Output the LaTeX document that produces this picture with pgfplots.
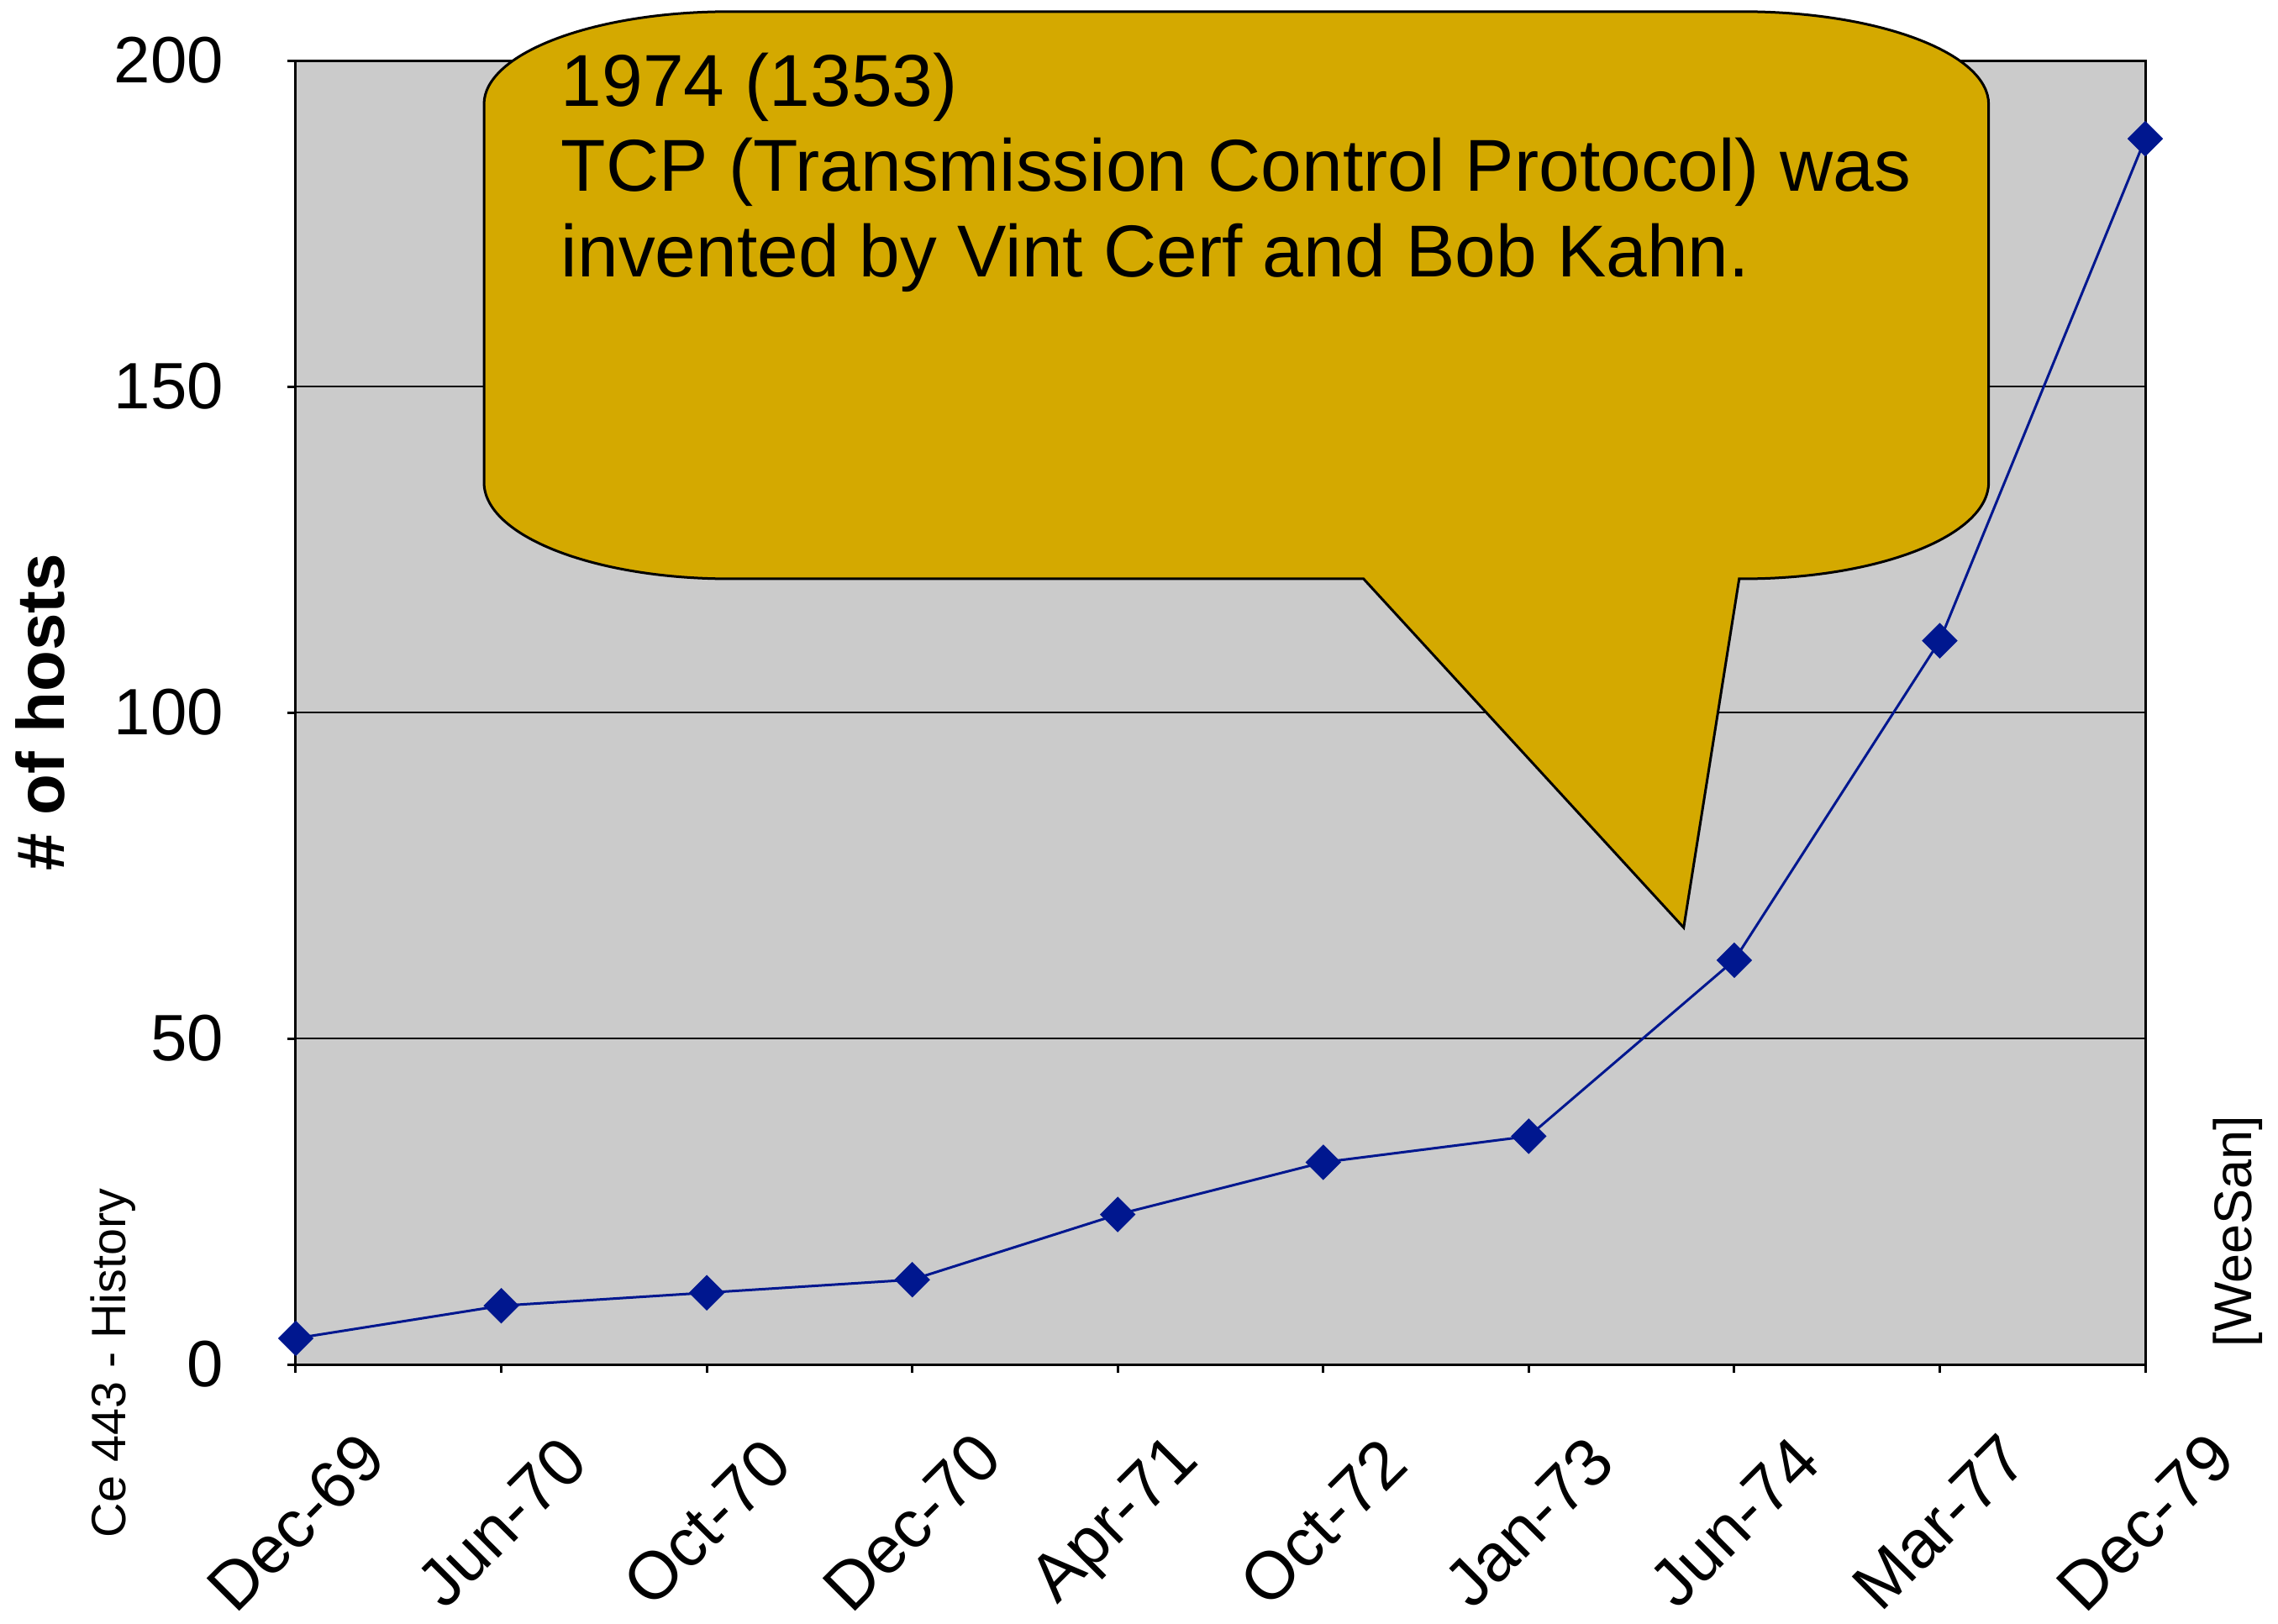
\documentclass[border=0pt]{standalone}
\usepackage{fontspec}
\setmainfont{Liberation Sans}
\usepackage{pgfplots}
\pgfplotsset{compat=1.18}
\definecolor{plotgray}{HTML}{CBCBCB}
\definecolor{calloutgold}{HTML}{D4A900}
\definecolor{hostblue}{HTML}{00178F}

\begin{document}
\begin{tikzpicture}
\useasboundingbox (-70.4pt,-61.6pt) rectangle (471.8pt,324.8pt);
\begin{axis}[
  at={(0pt,0pt)}, anchor=south west,
  width=440.2pt, height=310.4pt, scale only axis,
  xmin=0, xmax=9, ymin=0, ymax=200,
  clip=false,
  axis background/.style={fill=plotgray},
  axis line style={black, line width=0.6pt},
  xtick={0,...,9},
  xticklabels={Dec-69,Jun-70,Oct-70,Dec-70,Apr-71,Oct-72,Jan-73,Jun-74,Mar-77,Dec-79},
  ytick={0,50,100,150,200},
  ymajorgrids, major grid style={black, line width=0.5pt},
  tick pos=left, tick align=outside, major tick length=2pt,
  tick style={black, line width=0.6pt},
  /pgf/number format/assume math mode=true,
  yticklabel style={font=\fontsize{15.6}{18}\selectfont, inner sep=0pt, xshift=-15pt},
  xticklabel style={font=\fontsize{16}{19}\selectfont, inner sep=0pt, yshift=-35.6pt, rotate=45, anchor=center},
  ylabel={\# of hosts},
  ylabel style={font=\bfseries\fontsize{16}{19}\selectfont, at={(axis description cs:-0.138,0.5)}, anchor=center},
]
\addplot[hostblue, line width=0.6pt, mark=square*, mark size=2.7pt,
  mark options={rotate=45, fill=hostblue, draw=hostblue}]
  coordinates {(0,4)(1,9)(2,11)(3,13)(4,23)(5,31)(6,35)(7,62)(8,111)(9,188)};

% callout
\draw[black, line width=0.6pt, fill=calloutgold]
  (axis cs:2.110,207.5) -- (axis cs:7.044,207.5)
  .. controls (axis cs:7.703,207.5) and (axis cs:8.238,201.1) .. (axis cs:8.238,193.3)
  -- (axis cs:8.238,135.3)
  .. controls (axis cs:8.238,127.1) and (axis cs:7.703,120.5) .. (axis cs:7.044,120.5)
  -- (axis cs:7.024,120.5) -- (axis cs:6.754,67.0) -- (axis cs:5.196,120.5)
  -- (axis cs:2.110,120.5)
  .. controls (axis cs:1.451,120.5) and (axis cs:0.916,127.1) .. (axis cs:0.916,135.3)
  -- (axis cs:0.916,193.3)
  .. controls (axis cs:0.916,201.1) and (axis cs:1.451,207.5) .. (axis cs:2.110,207.5)
  -- cycle;
\node[anchor=base west, inner sep=0pt, font=\fontsize{17.5}{20}\selectfont] at (axis cs:1.288,193.0) {1974 (1353)};
\node[anchor=base west, inner sep=0pt, font=\fontsize{17.5}{20}\selectfont] at (axis cs:1.288,180.0) {TCP (Transmission Control Protocol) was};
\node[anchor=base west, inner sep=0pt, font=\fontsize{17.5}{20}\selectfont] at (axis cs:1.288,166.8) {invented by Vint Cerf and Bob Kahn.};

\node[rotate=90, font=\fontsize{11.5}{14}\selectfont] at (rel axis cs:-0.0986,0.001) {Ce 443 - History};
\node[rotate=90, font=\fontsize{12.6}{15}\selectfont] at (rel axis cs:1.050,0.102) {[WeeSan]};
\end{axis}
\end{tikzpicture}
\end{document}
